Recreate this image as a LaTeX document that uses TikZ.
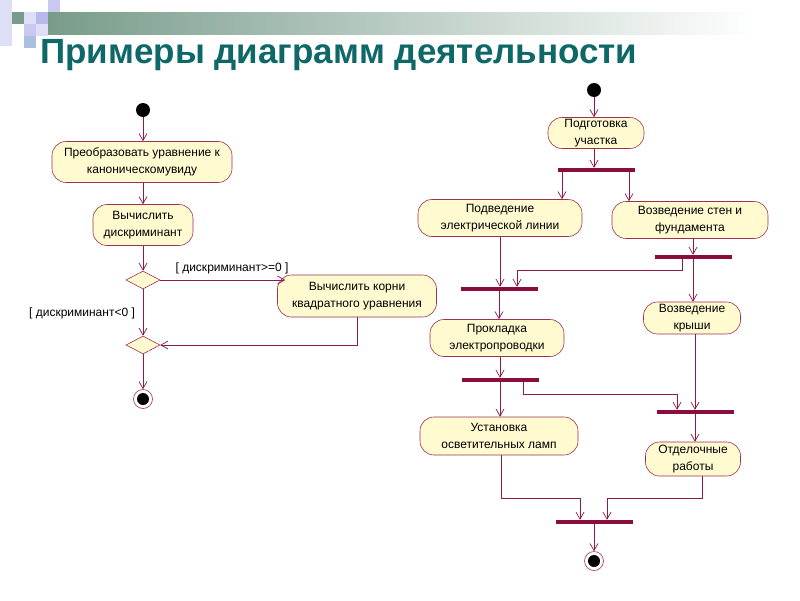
\documentclass[tikz,border=0pt]{standalone}
\usepackage{fontspec}
\setmainfont{Liberation Sans}
\usetikzlibrary{shapes.geometric,arrows.meta,calc}
\definecolor{lnc}{RGB}{140,26,75}
\definecolor{barc}{RGB}{139,13,62}
\definecolor{nfill}{RGB}{255,250,208}
\definecolor{nbord}{RGB}{160,48,80}
\definecolor{titlec}{RGB}{14,104,104}
\definecolor{lav1}{RGB}{200,200,240}
\definecolor{lav2}{RGB}{222,222,246}
\definecolor{lav3}{RGB}{184,184,236}
\definecolor{gg}{RGB}{120,156,138}
\definecolor{lblue}{RGB}{170,192,224}
\begin{document}
\begin{tikzpicture}[x=1pt,y=-1pt,
  act/.style={draw=nbord,line width=0.6pt,fill=nfill,rounded corners=14pt,align=center,
    inner sep=0pt,font=\fontsize{12}{17}\selectfont},
  dec/.style={draw=nbord,line width=0.6pt,fill=nfill,diamond,aspect=1.9,inner sep=0pt,
    minimum width=34pt,minimum height=18pt},
  barnode/.style={fill=barc,inner sep=0pt,minimum width=77pt,minimum height=4pt},
  startnode/.style={circle,fill=black,inner sep=0pt,minimum size=14pt},
  endnode/.style={circle,draw=nbord,line width=0.6pt,fill=white,inner sep=0pt,minimum size=19pt,
    path picture={\fill[black] (path picture bounding box.center) circle (6pt);}},
  arr/.style={draw=lnc,line width=0.7pt,-{Straight Barb[length=7pt,width=8pt,line width=0.7pt]}},
  guard/.style={font=\fontsize{12}{14}\selectfont,inner sep=0pt}
]
\useasboundingbox (0,0) rectangle (800,600);
% decoration
\shade[left color=gg,right color=white] (48,12) rectangle (755,34);
\fill[lav2] (0,0) rectangle (12,46);
\fill[lav1] (48,0) rectangle (60,12);
\fill[gg] (12,12) rectangle (24,24);
\fill[lav2] (24,12) rectangle (36,24);
\fill[lav3] (36,12) rectangle (48,24);
\fill[lav1] (24,24) rectangle (36,36);
\fill[lav2] (36,24) rectangle (48,36);
\fill[lblue] (24,36) rectangle (36,48);
% title
\node[anchor=base west,inner sep=0pt,text=titlec,font=\fontsize{35}{40}\selectfont\bfseries] (title) at (40,63) {Примеры диаграмм деятельности};

% left diagram
\node[startnode] (s1) at (143,110) {};
\node[act,minimum width=180pt,minimum height=41pt] (a1) at (142,162) {Преобразовать уравнение к\\каноническомувиду};
\node[act,minimum width=100pt,minimum height=41pt] (a2) at (143,225) {Вычислить\\дискриминант};
\node[dec] (d1) at (143,280) {};
\node[act,minimum width=159pt,minimum height=42pt] (a3) at (357,296) {Вычислить корни\\квадратного уравнения};
\node[dec] (d2) at (143,345) {};
\node[endnode] (e1) at (143,399) {};
\node[guard] (g1) at (232,268) {[ дискриминант>=0 ]};
\node[guard] (g2) at (82,313) {[ дискриминант<0 ]};

\draw[arr] (s1.south) -- (s1.south |- a1.north);
\draw[arr] (a1.south -| a2) -- (a2.north);
\draw[arr] (a2.south) -- (d1.north);
\draw[arr] (d1.east) -- ([xshift=8pt]d1.east -| a3.west);
\draw[arr] (d1.south) -- (d2.north);
\draw[arr] (a3.south) |- (d2.east);
\draw[arr] (d2.south) -- (e1.north);

% right diagram
\node[startnode] (s2) at (594,90) {};
\node[act,minimum width=96pt,minimum height=31pt] (b1) at (596,133) {Подготовка\\участка};
\node[barnode] (f1) at (596,170) {};
\node[act,minimum width=164pt,minimum height=37pt] (b2) at (500,218) {Подведение\\электрической линии};
\node[act,minimum width=156pt,minimum height=37pt] (b3) at (690,220) {Возведение стен и\\фундамента};
\node[barnode] (f2) at (693,257) {};
\node[barnode] (f3) at (499,289) {};
\node[act,minimum width=97pt,minimum height=32pt] (b4) at (692,318) {Возведение\\крыши};
\node[act,minimum width=134pt,minimum height=37pt] (b5) at (497,338) {Прокладка\\электропроводки};
\node[barnode] (f4) at (500,380) {};
\node[act,minimum width=158pt,minimum height=38pt] (b6) at (499,436) {Установка\\осветительных ламп};
\node[barnode] (f5) at (695,412) {};
\node[act,minimum width=95pt,minimum height=34pt] (b7) at (693,459) {Отделочные\\работы};
\node[barnode] (f6) at (594,522) {};
\node[endnode] (e2) at (594,561) {};

\draw[arr] (s2.south) -- (s2.south |- b1.north);
\draw[arr] (b1.south -| s2) -- (s2 |- f1.north);
\draw[arr] ([xshift=-34pt]f1.south) -- ([xshift=-34pt]f1.south |- b2.north);
\draw[arr] ([xshift=33pt]f1.south) -- ([xshift=33pt]f1.south |- b3.north);
\draw[arr] (f2.north |- b3.south) -- (f2.north);
\draw[arr] ([xshift=-11pt]f2.south) -- ++(0,11) -| ([xshift=18pt]f3.north);
\draw[arr] (f2.south) -- (f2.south |- b4.north);
\draw[arr] (b2.south) -- (b2.south |- f3.north);
\draw[arr] (f3.south) -- (f3.south |- b5.north);
\draw[arr] (f4.north |- b5.south) -- (f4.north);
\draw[arr] (f4.south) -- (f4.south |- b6.north);
\draw[arr] ([xshift=23pt]f4.south) -- ++(0,12) -| ([xshift=-18pt]f5.north);
\draw[arr] (f5.north |- b4.south) -- (f5.north);
\draw[arr] (f5.south) -- (f5.south |- b7.north);
\draw[arr] ([xshift=2pt]b6.south) -- ++(0,43) -| ([xshift=-14pt]f6.north);
\draw[arr] ([xshift=9pt]b7.south) -- ++(0,22) -| ([xshift=13pt]f6.north);
\draw[arr] (f6.south) -- (e2.north);
\end{tikzpicture}
\end{document}
